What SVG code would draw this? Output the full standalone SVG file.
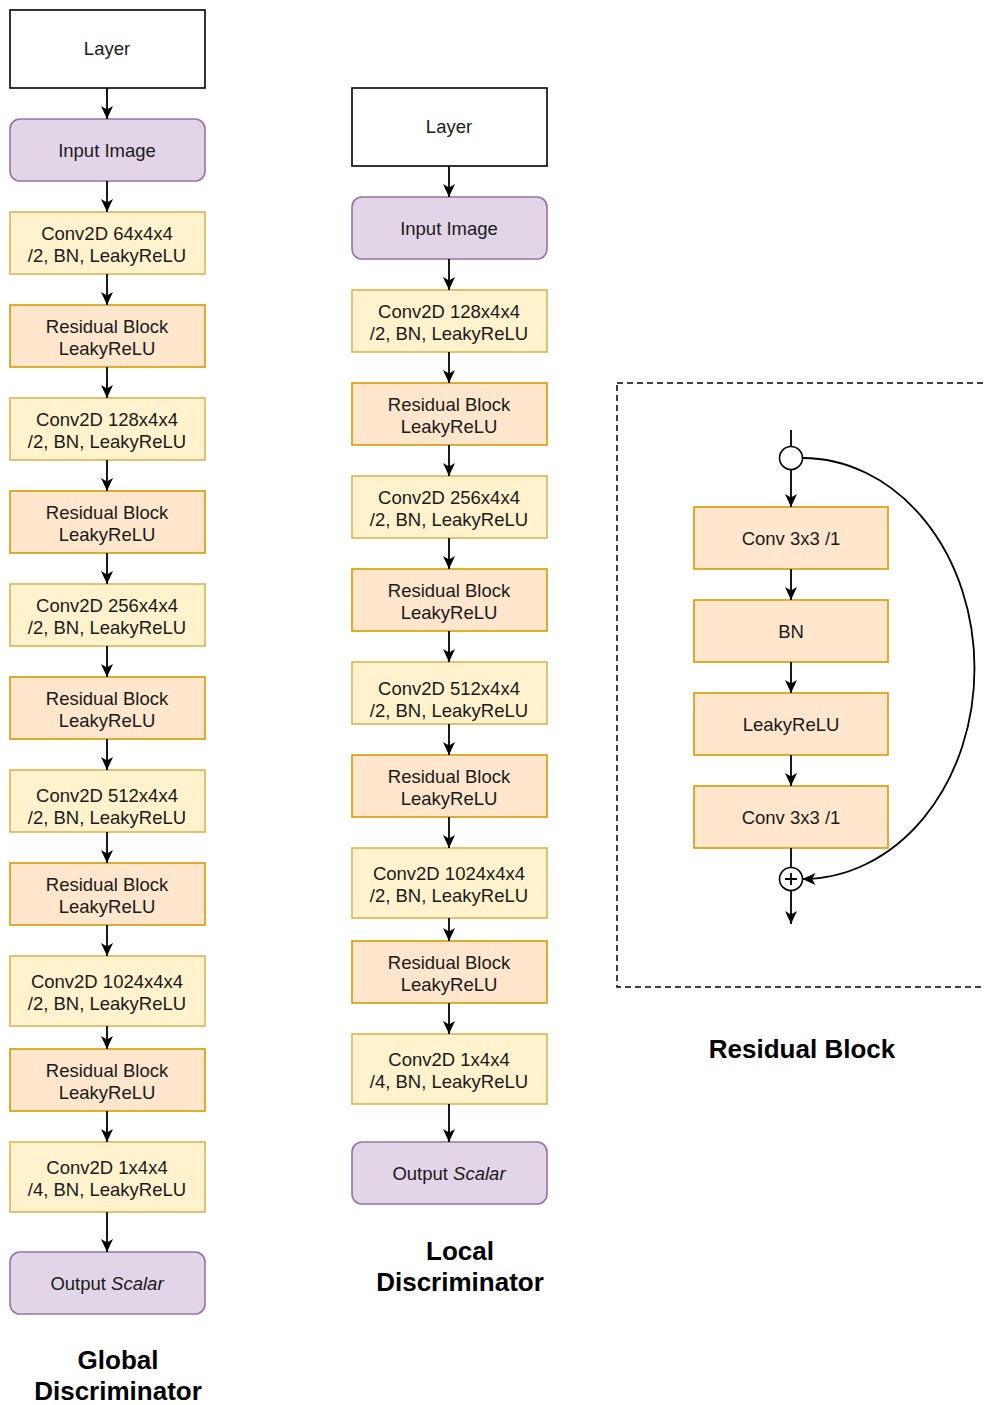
<svg xmlns="http://www.w3.org/2000/svg" width="985" height="1405" viewBox="0 0 985 1405">
  <style>
    text { font-family: "Liberation Sans", Arial, sans-serif; font-size: 18.5px; fill: #1a1a1a; text-anchor: middle; }
    .title { font-size: 26px; font-weight: bold; fill: #000; }
    .layer { fill: #ffffff; stroke: #000; stroke-width: 1.6; }
    .io { fill: #e1d5e7; stroke: #9673a6; stroke-width: 1.6; }
    .conv { fill: #fff2cc; stroke: #d6b656; stroke-width: 1.6; }
    .res { fill: #ffe6cc; stroke: #d79b00; stroke-width: 1.6; }
    .edge { fill: none; stroke: #000; stroke-width: 1.8; marker-end: url(#arrow); }
    .line { fill: none; stroke: #000; stroke-width: 1.8; }
    .panel { fill: none; stroke: #000; stroke-width: 1.5; stroke-dasharray: 6 4; }
    .circ { fill: #fff; stroke: #000; stroke-width: 1.6; }
  </style>
  <defs>
    <marker id="arrow" viewBox="0 0 13 12" refX="13" refY="6" markerWidth="13" markerHeight="12" markerUnits="userSpaceOnUse" orient="auto">
      <path d="M0,0 L13,6 L0,12 L3.5,6 Z" fill="#000"/>
    </marker>
  </defs>
  <rect width="985" height="1405" fill="#ffffff"/>

  <!-- Global discriminator column -->
  <g id="global">
    <g id="g-layer"><rect class="layer" x="10" y="10" width="195" height="78"/><text x="107" y="55">Layer</text></g>
    <g id="g-input"><rect class="io" x="10" y="119" width="195" height="62" rx="10"/><text x="107" y="157">Input Image</text></g>
    <g id="g-conv64"><rect class="conv" x="10" y="212" width="195" height="62"/><text x="107" y="240">Conv2D 64x4x4</text><text x="107" y="262">/2, BN, LeakyReLU</text></g>
    <g id="g-res1"><rect class="res" x="10" y="305" width="195" height="62"/><text x="107" y="333">Residual Block</text><text x="107" y="355">LeakyReLU</text></g>
    <g id="g-conv128"><rect class="conv" x="10" y="398" width="195" height="62"/><text x="107" y="426">Conv2D 128x4x4</text><text x="107" y="448">/2, BN, LeakyReLU</text></g>
    <g id="g-res2"><rect class="res" x="10" y="491" width="195" height="62"/><text x="107" y="519">Residual Block</text><text x="107" y="541">LeakyReLU</text></g>
    <g id="g-conv256"><rect class="conv" x="10" y="584" width="195" height="62"/><text x="107" y="612">Conv2D 256x4x4</text><text x="107" y="634">/2, BN, LeakyReLU</text></g>
    <g id="g-res3"><rect class="res" x="10" y="677" width="195" height="62"/><text x="107" y="705">Residual Block</text><text x="107" y="727">LeakyReLU</text></g>
    <g id="g-conv512"><rect class="conv" x="10" y="770" width="195" height="62"/><text x="107" y="802">Conv2D 512x4x4</text><text x="107" y="824">/2, BN, LeakyReLU</text></g>
    <g id="g-res4"><rect class="res" x="10" y="863" width="195" height="62"/><text x="107" y="891">Residual Block</text><text x="107" y="913">LeakyReLU</text></g>
    <g id="g-conv1024"><rect class="conv" x="10" y="956" width="195" height="70"/><text x="107" y="988">Conv2D 1024x4x4</text><text x="107" y="1010">/2, BN, LeakyReLU</text></g>
    <g id="g-res5"><rect class="res" x="10" y="1049" width="195" height="62"/><text x="107" y="1077">Residual Block</text><text x="107" y="1099">LeakyReLU</text></g>
    <g id="g-conv1"><rect class="conv" x="10" y="1142" width="195" height="70"/><text x="107" y="1174">Conv2D 1x4x4</text><text x="107" y="1196">/4, BN, LeakyReLU</text></g>
    <g id="g-output"><rect class="io" x="10" y="1252" width="195" height="62" rx="10"/><text x="107" y="1290">Output <tspan font-style="italic">Scalar</tspan></text></g>
  </g>

  <!-- Local discriminator column -->
  <g id="local">
    <g id="l-layer"><rect class="layer" x="352" y="88" width="195" height="78"/><text x="449" y="133">Layer</text></g>
    <g id="l-input"><rect class="io" x="352" y="197" width="195" height="62" rx="10"/><text x="449" y="235">Input Image</text></g>
    <g id="l-conv128"><rect class="conv" x="352" y="290" width="195" height="62"/><text x="449" y="318">Conv2D 128x4x4</text><text x="449" y="340">/2, BN, LeakyReLU</text></g>
    <g id="l-res1"><rect class="res" x="352" y="383" width="195" height="62"/><text x="449" y="411">Residual Block</text><text x="449" y="433">LeakyReLU</text></g>
    <g id="l-conv256"><rect class="conv" x="352" y="476" width="195" height="62"/><text x="449" y="504">Conv2D 256x4x4</text><text x="449" y="526">/2, BN, LeakyReLU</text></g>
    <g id="l-res2"><rect class="res" x="352" y="569" width="195" height="62"/><text x="449" y="597">Residual Block</text><text x="449" y="619">LeakyReLU</text></g>
    <g id="l-conv512"><rect class="conv" x="352" y="662" width="195" height="62"/><text x="449" y="695">Conv2D 512x4x4</text><text x="449" y="717">/2, BN, LeakyReLU</text></g>
    <g id="l-res3"><rect class="res" x="352" y="755" width="195" height="62"/><text x="449" y="783">Residual Block</text><text x="449" y="805">LeakyReLU</text></g>
    <g id="l-conv1024"><rect class="conv" x="352" y="848" width="195" height="70"/><text x="449" y="880">Conv2D 1024x4x4</text><text x="449" y="902">/2, BN, LeakyReLU</text></g>
    <g id="l-res4"><rect class="res" x="352" y="941" width="195" height="62"/><text x="449" y="969">Residual Block</text><text x="449" y="991">LeakyReLU</text></g>
    <g id="l-conv1"><rect class="conv" x="352" y="1034" width="195" height="70"/><text x="449" y="1066">Conv2D 1x4x4</text><text x="449" y="1088">/4, BN, LeakyReLU</text></g>
    <g id="l-output"><rect class="io" x="352" y="1142" width="195" height="62" rx="10"/><text x="449" y="1180">Output <tspan font-style="italic">Scalar</tspan></text></g>
  </g>

  <!-- Residual block detail -->
  <g id="residual-panel">
    <rect class="panel" x="617" y="383" width="380" height="604"/>
    <g id="r-conv1"><rect class="res" x="694" y="507" width="194" height="62"/><text x="791" y="545">Conv 3x3 /1</text></g>
    <g id="r-bn"><rect class="res" x="694" y="600" width="194" height="62"/><text x="791" y="638">BN</text></g>
    <g id="r-relu"><rect class="res" x="694" y="693" width="194" height="62"/><text x="791" y="731">LeakyReLU</text></g>
    <g id="r-conv2"><rect class="res" x="694" y="786" width="194" height="62"/><text x="791" y="824">Conv 3x3 /1</text></g>
    <g id="r-split"><circle class="circ" cx="791" cy="458" r="11.5"/></g>
    <g id="r-sum"><circle class="circ" cx="791" cy="879" r="11.5"/><path class="line" d="M785,879 H797 M791,873 V885" stroke-width="1.2"/></g>
  </g>

  <!-- Connectors -->
  <g id="connectors">
    <path class="edge" d="M107,88 V119"/>
    <path class="edge" d="M107,181 V212"/>
    <path class="edge" d="M107,274 V305"/>
    <path class="edge" d="M107,367 V398"/>
    <path class="edge" d="M107,460 V491"/>
    <path class="edge" d="M107,553 V584"/>
    <path class="edge" d="M107,646 V677"/>
    <path class="edge" d="M107,739 V770"/>
    <path class="edge" d="M107,832 V863"/>
    <path class="edge" d="M107,925 V956"/>
    <path class="edge" d="M107,1026 V1049"/>
    <path class="edge" d="M107,1111 V1142"/>
    <path class="edge" d="M107,1212 V1252"/>

    <path class="edge" d="M449,166 V197"/>
    <path class="edge" d="M449,259 V290"/>
    <path class="edge" d="M449,352 V383"/>
    <path class="edge" d="M449,445 V476"/>
    <path class="edge" d="M449,538 V569"/>
    <path class="edge" d="M449,631 V662"/>
    <path class="edge" d="M449,724 V755"/>
    <path class="edge" d="M449,817 V848"/>
    <path class="edge" d="M449,918 V941"/>
    <path class="edge" d="M449,1003 V1034"/>
    <path class="edge" d="M449,1104 V1142"/>

    <path class="line" d="M791,430 V446.5"/>
    <path class="edge" d="M791,469.5 V507"/>
    <path class="edge" d="M791,569 V600"/>
    <path class="edge" d="M791,662 V693"/>
    <path class="edge" d="M791,755 V786"/>
    <path class="line" d="M791,848 V867.5"/>
    <path class="edge" d="M791,890.5 V924"/>
    <path class="edge" d="M802.5,458 A172,210.5 0 0 1 802.5,879"/>
  </g>

  <!-- Titles -->
  <g id="titles">
    <text class="title" x="118" y="1369">Global</text>
    <text class="title" x="118" y="1400">Discriminator</text>
    <text class="title" x="460" y="1260">Local</text>
    <text class="title" x="460" y="1291">Discriminator</text>
    <text class="title" x="802" y="1058">Residual Block</text>
  </g>
</svg>
